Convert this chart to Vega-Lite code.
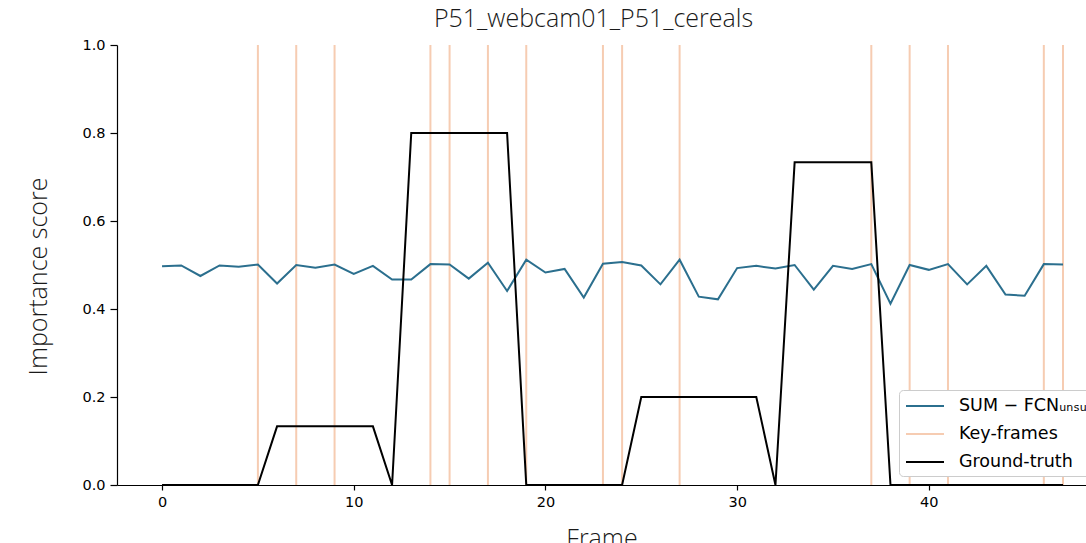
{
  "$schema": "https://vega.github.io/schema/vega-lite/v6.json",
  "width": 969,
  "height": 440,
  "autosize": {"type": "none"},
  "padding": {"left": 117, "top": 45, "right": 0, "bottom": 58},
  "background": "white",
  "title": {
    "text": "P51_webcam01_P51_cereals",
    "font": "Open Sans",
    "fontWeight": 300,
    "fontSize": 25,
    "color": "#1a1a1a",
    "anchor": "middle",
    "dx": -8,
    "offset": 5
  },
  "config": {
    "view": {"stroke": null},
    "axis": {
      "grid": false,
      "domainColor": "#000000",
      "domainWidth": 1.2,
      "tickColor": "#000000",
      "tickWidth": 1.2,
      "labelFont": "DejaVu Sans",
      "labelFontSize": 14.5,
      "labelColor": "#000000",
      "titleFont": "Open Sans",
      "titleFontWeight": 300,
      "titleFontSize": 25,
      "titleColor": "#1a1a1a"
    }
  },
  "datasets": {
    "scores": [
      {"frame": 0, "score": 0.497}, {"frame": 1, "score": 0.499}, {"frame": 2, "score": 0.475},
      {"frame": 3, "score": 0.499}, {"frame": 4, "score": 0.496}, {"frame": 5, "score": 0.501},
      {"frame": 6, "score": 0.458}, {"frame": 7, "score": 0.500}, {"frame": 8, "score": 0.494},
      {"frame": 9, "score": 0.501}, {"frame": 10, "score": 0.480}, {"frame": 11, "score": 0.498},
      {"frame": 12, "score": 0.467}, {"frame": 13, "score": 0.467}, {"frame": 14, "score": 0.502},
      {"frame": 15, "score": 0.501}, {"frame": 16, "score": 0.469}, {"frame": 17, "score": 0.505},
      {"frame": 18, "score": 0.441}, {"frame": 19, "score": 0.512}, {"frame": 20, "score": 0.483},
      {"frame": 21, "score": 0.491}, {"frame": 22, "score": 0.426}, {"frame": 23, "score": 0.503},
      {"frame": 24, "score": 0.507}, {"frame": 25, "score": 0.499}, {"frame": 26, "score": 0.456},
      {"frame": 27, "score": 0.512}, {"frame": 28, "score": 0.428}, {"frame": 29, "score": 0.422},
      {"frame": 30, "score": 0.493}, {"frame": 31, "score": 0.498}, {"frame": 32, "score": 0.492},
      {"frame": 33, "score": 0.500}, {"frame": 34, "score": 0.444}, {"frame": 35, "score": 0.498},
      {"frame": 36, "score": 0.491}, {"frame": 37, "score": 0.502}, {"frame": 38, "score": 0.412},
      {"frame": 39, "score": 0.500}, {"frame": 40, "score": 0.489}, {"frame": 41, "score": 0.502},
      {"frame": 42, "score": 0.456}, {"frame": 43, "score": 0.498}, {"frame": 44, "score": 0.433},
      {"frame": 45, "score": 0.430}, {"frame": 46, "score": 0.502}, {"frame": 47, "score": 0.501}
    ],
    "keyframes": [
      {"frame": 5}, {"frame": 7}, {"frame": 9}, {"frame": 14}, {"frame": 15}, {"frame": 17},
      {"frame": 19}, {"frame": 23}, {"frame": 24}, {"frame": 27}, {"frame": 37}, {"frame": 39},
      {"frame": 41}, {"frame": 46}, {"frame": 47}
    ],
    "gt": [
      {"frame": 0, "score": 0}, {"frame": 1, "score": 0}, {"frame": 2, "score": 0},
      {"frame": 3, "score": 0}, {"frame": 4, "score": 0}, {"frame": 5, "score": 0},
      {"frame": 6, "score": 0.1333}, {"frame": 7, "score": 0.1333}, {"frame": 8, "score": 0.1333},
      {"frame": 9, "score": 0.1333}, {"frame": 10, "score": 0.1333}, {"frame": 11, "score": 0.1333},
      {"frame": 12, "score": 0}, {"frame": 13, "score": 0.8}, {"frame": 14, "score": 0.8},
      {"frame": 15, "score": 0.8}, {"frame": 16, "score": 0.8}, {"frame": 17, "score": 0.8},
      {"frame": 18, "score": 0.8}, {"frame": 19, "score": 0}, {"frame": 20, "score": 0},
      {"frame": 21, "score": 0}, {"frame": 22, "score": 0}, {"frame": 23, "score": 0},
      {"frame": 24, "score": 0}, {"frame": 25, "score": 0.2}, {"frame": 26, "score": 0.2},
      {"frame": 27, "score": 0.2}, {"frame": 28, "score": 0.2}, {"frame": 29, "score": 0.2},
      {"frame": 30, "score": 0.2}, {"frame": 31, "score": 0.2}, {"frame": 32, "score": 0},
      {"frame": 33, "score": 0.7333}, {"frame": 34, "score": 0.7333}, {"frame": 35, "score": 0.7333},
      {"frame": 36, "score": 0.7333}, {"frame": 37, "score": 0.7333}, {"frame": 38, "score": 0},
      {"frame": 39, "score": 0}, {"frame": 40, "score": 0}, {"frame": 41, "score": 0},
      {"frame": 42, "score": 0}, {"frame": 43, "score": 0}, {"frame": 44, "score": 0},
      {"frame": 45, "score": 0}, {"frame": 46, "score": 0}, {"frame": 47, "score": 0}
    ]
  },
  "encoding": {
    "x": {
      "field": "frame",
      "type": "quantitative",
      "scale": {"domain": [-2.35, 48.2], "nice": false, "zero": false},
      "axis": {"values": [0, 10, 20, 30, 40], "title": "Frame", "tickSize": 5, "labelPadding": 5, "titlePadding": 18}
    }
  },
  "layer": [
    {
      "data": {"name": "keyframes"},
      "mark": {"type": "rule", "strokeWidth": 2, "clip": true},
      "encoding": {
        "color": {
          "datum": "Key-frames",
          "type": "nominal",
          "scale": {
            "domain": ["SUM − FCNᵤₙₛᵤₚ", "Key-frames", "Ground-truth"],
            "range": ["#2b6f8e", "#f6ccb2", "#000000"]
          },
          "legend": {
            "title": null,
            "orient": "none",
            "legendX": 782,
            "legendY": 345,
            "symbolType": "M-0.9,0L2.9,0",
            "symbolSize": 400,
            "symbolStrokeWidth": 2,
            "labelFont": "DejaVu Sans",
            "labelFontSize": 17.5,
            "labelColor": "#000000",
            "labelOffset": 33,
            "rowPadding": 8,
            "padding": 5,
            "fillColor": "white",
            "strokeColor": "#cccccc",
            "cornerRadius": 4
          }
        }
      }
    },
    {
      "data": {"name": "scores"},
      "mark": {"type": "line", "strokeWidth": 2},
      "encoding": {
        "y": {
          "field": "score",
          "type": "quantitative",
          "scale": {"domain": [0, 1], "nice": false},
          "axis": {"values": [0, 0.2, 0.4, 0.6, 0.8, 1.0], "format": ".1f", "title": "Importance score", "tickSize": 7, "labelPadding": 5, "titlePadding": 30, "titleY": 231}
        },
        "color": {"datum": "SUM − FCNᵤₙₛᵤₚ", "type": "nominal"}
      }
    },
    {
      "data": {"name": "gt"},
      "mark": {"type": "line", "strokeWidth": 2},
      "encoding": {
        "y": {"field": "score", "type": "quantitative"},
        "color": {"datum": "Ground-truth", "type": "nominal"}
      }
    }
  ]
}
